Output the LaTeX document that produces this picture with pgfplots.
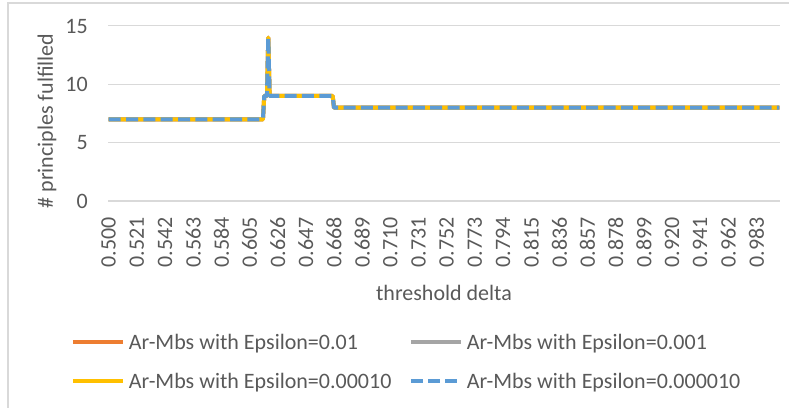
\documentclass[border=0pt]{standalone}
\usepackage{pgfplots}
\pgfplotsset{compat=1.18}
\usepackage{fontspec}
\setmainfont{Carlito}

\definecolor{txtgray}{HTML}{595959}
\definecolor{gridgray}{HTML}{D9D9D9}
\definecolor{xlorange}{HTML}{ED7D31}
\definecolor{xlgray}{HTML}{A5A5A5}
\definecolor{xlyellow}{HTML}{FFC000}
\definecolor{xlblue}{HTML}{5B9BD5}

\newcommand{\chartfont}{\fontsize{16.5}{19.8}\selectfont}

% threshold delta vs. number of principles fulfilled (all four series coincide)
\pgfplotstableread{
x      y
0.500  7
0.615  7
0.616  9
0.618  9
0.619  14
0.620  9
0.667  9
0.668  8
1.000  8
}\principles

\begin{document}
\begin{tikzpicture}
  \useasboundingbox (0,0) rectangle (591.75pt,305.25pt);
  \draw[gridgray, line width=1pt] (6pt,-10pt) -- (6pt,303pt) -- (620pt,303pt);
  \begin{axis}[
    at={(81pt,154.5pt)}, anchor=south west,
    scale only axis, width=504pt, height=131.25pt,
    xmin=0.4995, xmax=1.0005,
    ymin=0, ymax=15,
    axis line style={draw=none},
    tick style={draw=none},
    ymajorgrids, grid style={gridgray, line width=0.75pt},
    ytick={0,5,10,15}, yticklabels={0,5,10,15},
    xtick={0.500,0.521,0.542,0.563,0.584,0.605,0.626,0.647,0.668,0.689,0.710,0.731,
           0.752,0.773,0.794,0.815,0.836,0.857,0.878,0.899,0.920,0.941,0.962,0.983},
    xticklabels={0.500,0.521,0.542,0.563,0.584,0.605,0.626,0.647,0.668,0.689,0.710,0.731,
           0.752,0.773,0.794,0.815,0.836,0.857,0.878,0.899,0.920,0.941,0.962,0.983},
    ticklabel style={font=\chartfont, text=txtgray, inner sep=0pt},
    x tick label style={rotate=90, anchor=east},
    y tick label style={anchor=east},
    xticklabel shift=12pt, yticklabel shift=15pt,
    xlabel={threshold delta},
    xlabel style={font=\chartfont, text=txtgray, inner sep=0pt,
      at={(axis description cs:0.5,0)}, anchor=base, yshift=-74.25pt},
    ylabel={\# principles fulfilled},
    ylabel style={font=\chartfont, text=txtgray, inner sep=0pt,
      at={(axis description cs:-0.0908,0.457)}, anchor=center},
    legend columns=2,
    legend cell align=left,
    legend image code/.code={\draw[#1] (0pt,0pt) -- (37.5pt,0pt);},
    legend style={at={(axis description cs:-0.0551,-0.917)}, anchor=west,
      draw=none, fill=none, inner sep=0pt, outer sep=0pt,
      font=\chartfont, text=txtgray, row sep=14.65pt,
      nodes={inner sep=0pt, text height=12.6pt, text depth=2pt},
      /tikz/every odd column/.append style={column sep=3pt},
      /tikz/every even column/.append style={column sep=13pt}},
    every axis plot/.append style={line width=3pt, line join=round},
  ]
    \addplot[xlorange] table[x=x, y=y] {\principles};
    \addlegendentry{Ar-Mbs with Epsilon=0.01}
    \addplot[xlgray] table[x=x, y=y] {\principles};
    \addlegendentry{Ar-Mbs with Epsilon=0.001}
    \addplot[xlyellow] table[x=x, y=y] {\principles};
    \addlegendentry{Ar-Mbs with Epsilon=0.00010}
    \addplot[xlblue, dash pattern=on 9pt off 4pt] table[x=x, y=y] {\principles};
    \addlegendentry{Ar-Mbs with Epsilon=0.000010}
  \end{axis}
\end{tikzpicture}
\end{document}
